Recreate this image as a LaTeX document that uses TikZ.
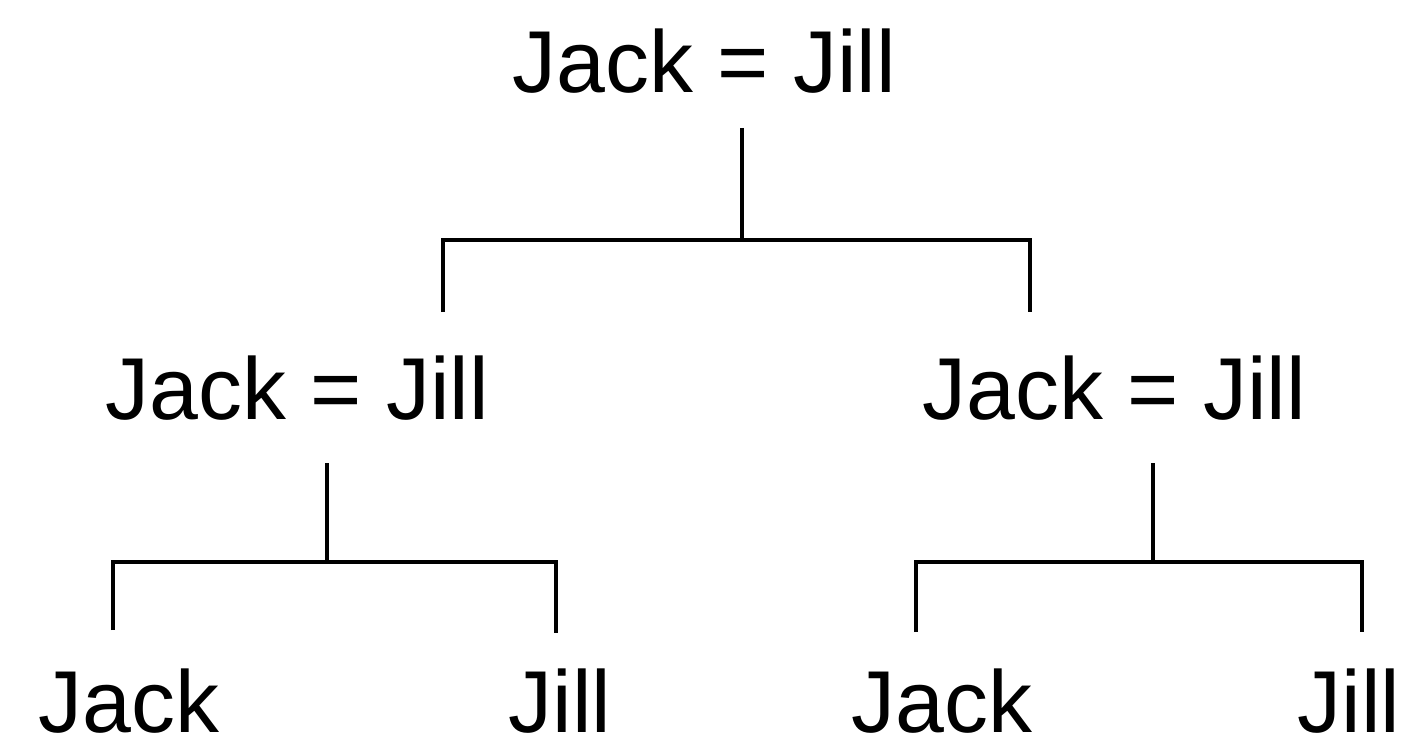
\documentclass[tikz,border=0pt]{standalone}
\usepackage{fontspec}
\setmainfont{Liberation Sans}
\usepackage{tikz}
\usetikzlibrary{calc}

\begin{document}
\begin{tikzpicture}[
    person/.style={inner sep=0pt, anchor=base, font=\fontsize{25}{30}\selectfont},
    kin/.style={line width=1.2pt}
  ]
  \useasboundingbox[fill=white] (0,0) rectangle (14.05,7.44);
  % Couples
  \node[person] (top)   at (7.04,6.52) {Jack = Jill};
  \node[person] (left)  at (2.97,3.25) {Jack = Jill};
  \node[person] (right) at (11.14,3.25) {Jack = Jill};
  % Children of the lower couples
  \node[person] (leftjack)  at (1.29,0.12) {Jack};
  \node[person] (leftjill)  at (5.60,0.12) {Jill};
  \node[person] (rightjack) at (9.42,0.12) {Jack};
  \node[person] (rightjill) at (13.49,0.12) {Jill};
  % Fork points below the = signs
  \coordinate (top-stem)    at (7.42,6.16);
  \coordinate (top-fork)    at (7.42,5.04);
  \coordinate (left-stem)   at (3.27,2.81);
  \coordinate (left-fork)   at (3.27,1.82);
  \coordinate (right-stem)  at (11.53,2.81);
  \coordinate (right-fork)  at (11.53,1.82);
  % Drop ends
  \coordinate (top-ldrop)   at (4.43,4.32);
  \coordinate (top-rdrop)   at (10.30,4.32);
  \coordinate (left-ldrop)  at (1.13,1.14);
  \coordinate (left-rdrop)  at (5.56,1.11);
  \coordinate (right-ldrop) at (9.16,1.12);
  \coordinate (right-rdrop) at (13.62,1.12);
  % Lines of descent
  \draw[kin] (top-stem) -- (top-fork);
  \draw[kin] (top-ldrop) |- (top-fork) -| (top-rdrop);
  \draw[kin] (left-stem) -- (left-fork);
  \draw[kin] (left-ldrop) |- (left-fork) -| (left-rdrop);
  \draw[kin] (right-stem) -- (right-fork);
  \draw[kin] (right-ldrop) |- (right-fork) -| (right-rdrop);
\end{tikzpicture}
\end{document}
